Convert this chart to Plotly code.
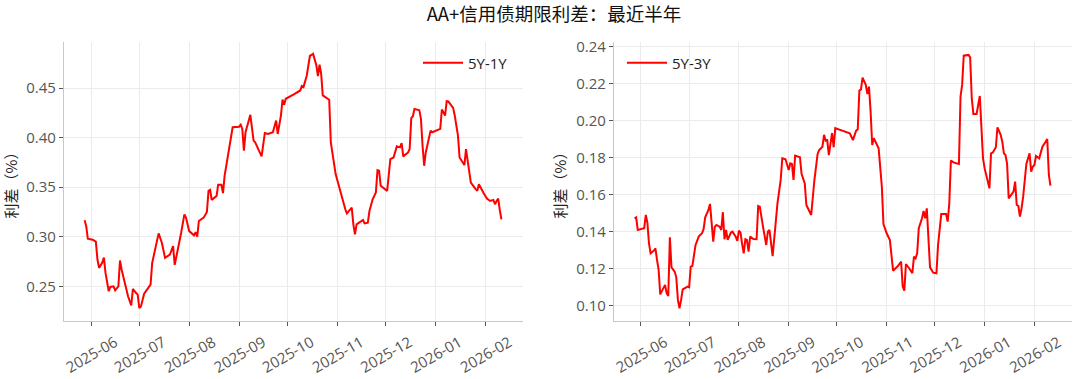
import plotly.graph_objects as go

# ---------------- data ----------------
dates_5y1y = [
    "2025-05-28", "2025-05-29", "2025-05-30", "2025-06-02", "2025-06-04", "2025-06-05", "2025-06-06", "2025-06-08", "2025-06-09", "2025-06-10",
    "2025-06-12", "2025-06-13", "2025-06-15", "2025-06-16", "2025-06-18", "2025-06-19", "2025-06-20", "2025-06-22", "2025-06-24", "2025-06-26",
    "2025-06-27", "2025-06-29", "2025-06-30", "2025-07-01", "2025-07-02", "2025-07-04", "2025-07-06", "2025-07-08", "2025-07-09", "2025-07-11",
    "2025-07-13", "2025-07-15", "2025-07-17", "2025-07-20", "2025-07-22", "2025-07-23", "2025-07-25", "2025-07-27", "2025-07-29", "2025-07-30",
    "2025-08-01", "2025-08-04", "2025-08-05", "2025-08-06", "2025-08-07", "2025-08-10", "2025-08-12", "2025-08-13", "2025-08-14", "2025-08-15",
    "2025-08-18", "2025-08-19", "2025-08-21", "2025-08-22", "2025-08-23", "2025-08-25", "2025-08-28", "2025-09-01", "2025-09-02", "2025-09-03",
    "2025-09-04", "2025-09-05", "2025-09-08", "2025-09-10", "2025-09-11", "2025-09-15", "2025-09-17", "2025-09-19", "2025-09-22", "2025-09-24",
    "2025-09-25", "2025-09-27", "2025-09-28", "2025-09-29", "2025-09-30", "2025-10-05", "2025-10-09", "2025-10-10", "2025-10-11", "2025-10-13",
    "2025-10-15", "2025-10-17", "2025-10-19", "2025-10-20", "2025-10-21", "2025-10-22", "2025-10-23", "2025-10-27", "2025-10-28", "2025-10-31",
    "2025-11-02", "2025-11-04", "2025-11-06", "2025-11-07", "2025-11-09", "2025-11-10", "2025-11-11", "2025-11-12", "2025-11-13", "2025-11-15",
    "2025-11-17", "2025-11-18", "2025-11-20", "2025-11-21", "2025-11-23", "2025-11-25", "2025-11-26", "2025-11-27", "2025-11-28", "2025-12-02",
    "2025-12-03", "2025-12-04", "2025-12-06", "2025-12-08", "2025-12-10", "2025-12-11", "2025-12-12", "2025-12-15", "2025-12-16", "2025-12-17",
    "2025-12-18", "2025-12-19", "2025-12-22", "2025-12-23", "2025-12-24", "2025-12-25", "2025-12-26", "2025-12-29", "2025-12-30", "2026-01-04",
    "2026-01-05", "2026-01-07", "2026-01-08", "2026-01-09", "2026-01-12", "2026-01-13", "2026-01-15", "2026-01-16", "2026-01-18", "2026-01-19",
    "2026-01-20", "2026-01-22", "2026-01-23", "2026-01-26", "2026-01-27", "2026-01-28", "2026-01-30", "2026-01-31", "2026-02-02", "2026-02-04",
    "2026-02-06", "2026-02-07", "2026-02-08", "2026-02-09", "2026-02-10", "2026-02-11",
]
spread_5y1y = [
    0.3166, 0.311, 0.298, 0.297, 0.295, 0.277, 0.2686, 0.274, 0.279, 0.2635,
    0.245, 0.2494, 0.25, 0.246, 0.25, 0.276, 0.267, 0.2517, 0.24, 0.2307,
    0.2473, 0.2432, 0.2416, 0.228, 0.2297, 0.2426, 0.2466, 0.2517, 0.2736, 0.2878,
    0.3034, 0.294, 0.2787, 0.282, 0.2905, 0.2716, 0.2872, 0.304, 0.3226, 0.3193,
    0.3057, 0.3014, 0.3047, 0.300, 0.3159, 0.3193, 0.325, 0.3463, 0.3473, 0.3372,
    0.3412, 0.3524, 0.3524, 0.344, 0.3615, 0.38, 0.4105, 0.411, 0.413, 0.4088,
    0.3868, 0.4054, 0.423, 0.397, 0.3953, 0.3811, 0.4047, 0.4037, 0.4054, 0.4172,
    0.4037, 0.4223, 0.4385, 0.4331, 0.4392, 0.4436, 0.4476, 0.452, 0.451, 0.4622,
    0.4824, 0.4845, 0.473, 0.4622, 0.4736, 0.4645, 0.4426, 0.4382, 0.3953, 0.3632,
    0.3507, 0.3412, 0.3277, 0.3236, 0.3277, 0.3294, 0.3125, 0.3024, 0.3125, 0.3149,
    0.3169, 0.3135, 0.3142, 0.326, 0.3378, 0.3446, 0.3672, 0.3666, 0.3514, 0.3463,
    0.3649, 0.3784, 0.38, 0.3912, 0.3902, 0.3946, 0.3811, 0.3851, 0.3885, 0.4196,
    0.4216, 0.429, 0.4277, 0.4189, 0.3919, 0.3716, 0.3851, 0.4071, 0.4054, 0.4088,
    0.4284, 0.4223, 0.4368, 0.4365, 0.4301, 0.4223, 0.402, 0.38, 0.375, 0.3723,
    0.3885, 0.3649, 0.3547, 0.348, 0.3463, 0.353, 0.3463, 0.3439, 0.3385, 0.3361,
    0.3372, 0.3328, 0.3361, 0.3385, 0.327, 0.3176,
]

dates_5y3y = [
    "2025-05-28", "2025-05-29", "2025-05-30", "2025-06-01", "2025-06-03", "2025-06-04", "2025-06-05", "2025-06-06", "2025-06-07", "2025-06-09",
    "2025-06-10", "2025-06-11", "2025-06-12", "2025-06-13", "2025-06-14", "2025-06-16", "2025-06-17", "2025-06-18", "2025-06-19", "2025-06-20",
    "2025-06-22", "2025-06-23", "2025-06-24", "2025-06-25", "2025-06-26", "2025-06-27", "2025-06-30", "2025-07-01", "2025-07-02", "2025-07-03",
    "2025-07-05", "2025-07-07", "2025-07-09", "2025-07-10", "2025-07-11", "2025-07-13", "2025-07-14", "2025-07-15", "2025-07-16", "2025-07-17",
    "2025-07-18", "2025-07-20", "2025-07-21", "2025-07-22", "2025-07-23", "2025-07-24", "2025-07-25", "2025-07-27", "2025-07-28", "2025-07-30",
    "2025-07-31", "2025-08-01", "2025-08-02", "2025-08-03", "2025-08-04", "2025-08-05", "2025-08-06", "2025-08-07", "2025-08-08", "2025-08-10",
    "2025-08-12", "2025-08-13", "2025-08-14", "2025-08-16", "2025-08-18", "2025-08-19", "2025-08-20", "2025-08-22", "2025-08-24", "2025-08-25",
    "2025-08-27", "2025-08-28", "2025-08-30", "2025-09-01", "2025-09-02", "2025-09-03", "2025-09-04", "2025-09-05", "2025-09-08", "2025-09-09",
    "2025-09-11", "2025-09-12", "2025-09-15", "2025-09-17", "2025-09-19", "2025-09-20", "2025-09-22", "2025-09-23", "2025-09-24", "2025-09-25",
    "2025-09-26", "2025-09-27", "2025-09-28", "2025-09-29", "2025-09-30", "2025-10-03", "2025-10-09", "2025-10-10", "2025-10-11", "2025-10-13",
    "2025-10-14", "2025-10-15", "2025-10-16", "2025-10-17", "2025-10-19", "2025-10-20", "2025-10-21", "2025-10-22", "2025-10-23", "2025-10-24",
    "2025-10-27", "2025-10-29", "2025-10-30", "2025-11-01", "2025-11-03", "2025-11-05", "2025-11-08", "2025-11-10", "2025-11-11", "2025-11-12",
    "2025-11-13", "2025-11-15", "2025-11-17", "2025-11-18", "2025-11-19", "2025-11-20", "2025-11-21", "2025-11-23", "2025-11-24", "2025-11-25",
    "2025-11-26", "2025-11-28", "2025-11-30", "2025-12-02", "2025-12-03", "2025-12-05", "2025-12-08", "2025-12-09", "2025-12-10", "2025-12-11",
    "2025-12-13", "2025-12-16", "2025-12-17", "2025-12-18", "2025-12-19", "2025-12-22", "2025-12-23", "2025-12-24", "2025-12-25", "2025-12-27",
    "2025-12-29", "2025-12-31", "2026-01-01", "2026-01-04", "2026-01-05", "2026-01-06", "2026-01-08", "2026-01-09", "2026-01-11", "2026-01-12",
    "2026-01-13", "2026-01-14", "2026-01-15", "2026-01-16", "2026-01-19", "2026-01-20", "2026-01-21", "2026-01-22", "2026-01-23", "2026-01-24",
    "2026-01-25", "2026-01-27", "2026-01-29", "2026-01-30", "2026-01-31", "2026-02-01", "2026-02-02", "2026-02-04", "2026-02-06", "2026-02-08",
    "2026-02-09", "2026-02-10", "2026-02-11",
]
spread_5y3y = [
    0.1472, 0.1477, 0.1409, 0.1414, 0.1418, 0.149, 0.1449, 0.1337, 0.1283, 0.1297,
    0.131, 0.1247, 0.1193, 0.1061, 0.1081, 0.1112, 0.1067, 0.1052, 0.1369, 0.1207,
    0.1184, 0.1153, 0.1031, 0.0986, 0.1031, 0.1088, 0.1103, 0.1099, 0.1211, 0.1214,
    0.1328, 0.1373, 0.1391, 0.1413, 0.1477, 0.1517, 0.155, 0.1454, 0.1346, 0.1427,
    0.1436, 0.1427, 0.1409, 0.1505, 0.1359, 0.1409, 0.1355, 0.1395, 0.14, 0.1373,
    0.135, 0.1405, 0.1395, 0.1333, 0.1283, 0.1359, 0.1355, 0.1292, 0.1373, 0.136,
    0.1359, 0.1539, 0.1535, 0.1427, 0.1328, 0.14, 0.1409, 0.1268, 0.1463, 0.1553,
    0.1679, 0.1796, 0.1791, 0.1733, 0.1769, 0.1766, 0.1679, 0.1811, 0.1802, 0.1712,
    0.1661, 0.1544, 0.149, 0.1679, 0.182, 0.1841, 0.1859, 0.1923, 0.1892, 0.1895,
    0.1814, 0.1886, 0.1932, 0.1856, 0.1959, 0.195, 0.1932, 0.1914, 0.1895, 0.1946,
    0.1953, 0.2162, 0.2169, 0.2232, 0.2193, 0.2144, 0.2184, 0.2049, 0.1868, 0.1905,
    0.185, 0.1643, 0.1441, 0.1391, 0.1355, 0.1189, 0.1214, 0.1238, 0.1103, 0.1081,
    0.1225, 0.1202, 0.1175, 0.1265, 0.1256, 0.1283, 0.1418, 0.1472, 0.1512, 0.1472,
    0.1526, 0.1207, 0.1178, 0.1175, 0.1328, 0.1495, 0.1495, 0.1454, 0.1553, 0.1784,
    0.1773, 0.1766, 0.213, 0.2193, 0.2351, 0.2355, 0.2342, 0.2121, 0.2036, 0.2036,
    0.2133, 0.1796, 0.1742, 0.1634, 0.1823, 0.1827, 0.1856, 0.1964, 0.1923, 0.1886,
    0.1823, 0.1814, 0.1766, 0.158, 0.1616, 0.167, 0.1544, 0.1539, 0.1481, 0.1526,
    0.1589, 0.1766, 0.1823, 0.1724, 0.1751, 0.176, 0.1809, 0.1796, 0.1859, 0.1886,
    0.1901, 0.1706, 0.1649,
]

month_ticks = ["2025-06-01", "2025-07-01", "2025-08-01", "2025-09-01", "2025-10-01",
               "2025-11-01", "2025-12-01", "2026-01-01", "2026-02-01"]
month_labels = ["2025-06", "2025-07", "2025-08", "2025-09", "2025-10",
                "2025-11", "2025-12", "2026-01", "2026-02"]
left_yticks = [0.25, 0.30, 0.35, 0.40, 0.45]
right_yticks = [0.10, 0.12, 0.14, 0.16, 0.18, 0.20, 0.22, 0.24]

title_text = "AA+信用债期限利差：最近半年"
ylabel = "利差（%）"

# ---------------- style ----------------
FONT = "Open Sans, Noto Sans CJK SC, sans-serif"
CJK = "Noto Sans CJK SC, sans-serif"
GRID = "#ebebeb"
SPINE = "#c8c8c8"
TICKC = "#555555"
RED = "#ff0000"

fig = go.Figure()
fig.add_trace(go.Scatter(x=dates_5y1y, y=spread_5y1y, mode="lines", name="5Y-1Y",
                         line=dict(color=RED, width=2), xaxis="x", yaxis="y", legend="legend"))
fig.add_trace(go.Scatter(x=dates_5y3y, y=spread_5y3y, mode="lines", name="5Y-3Y",
                         line=dict(color=RED, width=2), xaxis="x2", yaxis="y2", legend="legend2"))

xrange = ["2025-05-15 05:00", "2026-02-24 10:00"]
ydom = [1 - 321 / 379, 1 - 42 / 379]


def xaxis(domain, anchor):
    return dict(domain=domain, anchor=anchor, type="date", range=xrange, automargin=False,
                tickmode="array", tickvals=month_ticks, ticktext=month_labels,
                tickangle=-30, ticklabelshift=24, ticklabelstandoff=2,
                showgrid=True, gridcolor=GRID, gridwidth=1,
                showline=True, linecolor=SPINE, linewidth=1.2, mirror=False,
                ticks="outside", ticklen=4, tickcolor=TICKC, tickwidth=1,
                tickfont=dict(family=FONT, size=15, color=TICKC), zeroline=False)


def yaxis(anchor, rng, vals):
    return dict(domain=ydom, anchor=anchor, range=rng, automargin=False,
                tickmode="array", tickvals=vals,
                tickformat=".2f", showgrid=True, gridcolor=GRID, gridwidth=1,
                showline=True, linecolor=SPINE, linewidth=1.2,
                ticks="outside", ticklen=4, tickcolor=TICKC, tickwidth=1,
                tickfont=dict(family=FONT, size=15, color=TICKC), zeroline=False,
                title=dict(text=ylabel, font=dict(family=CJK, size=15, color="#222222"), standoff=5))


fig.update_layout(
    width=1080, height=379,
    margin=dict(l=0, r=0, t=0, b=0),
    paper_bgcolor="white", plot_bgcolor="white",
    font=dict(family=FONT),
    title=dict(text=title_text, x=0.513, xanchor="center", y=1 - 15 / 379, yanchor="middle",
               font=dict(family=CJK, size=18.5, color="#111111")),
    xaxis=xaxis([64 / 1080, 523 / 1080], "y"),
    yaxis=yaxis("x", [0.215, 0.4965], left_yticks),
    xaxis2=xaxis([614 / 1080, 1072 / 1080], "y2"),
    yaxis2=yaxis("x2", [0.0917, 0.2425], right_yticks),
    legend=dict(x=418 / 1080, y=1 - 63 / 379, xanchor="left", yanchor="middle", itemwidth=40,
                bgcolor="rgba(0,0,0,0)", font=dict(family=FONT, size=15, color="#222222")),
    legend2=dict(x=622 / 1080, y=1 - 63 / 379, xanchor="left", yanchor="middle", itemwidth=40,
                 bgcolor="rgba(0,0,0,0)", font=dict(family=FONT, size=15, color="#222222")),
    showlegend=True,
)

fig.write_html("out.html", config={"displayModeBar": False},
               post_script="document.body.style.margin='0';document.body.style.overflow='hidden';")
